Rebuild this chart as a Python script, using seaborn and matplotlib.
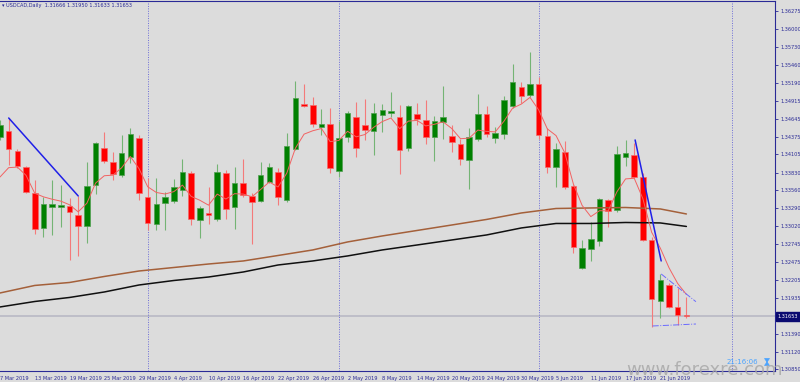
import numpy as np
import pandas as pd
import matplotlib
matplotlib.use("Agg")
import matplotlib.pyplot as plt
from matplotlib.patches import Polygon
import seaborn as sns

# USDCAD daily bars, 7 Mar 2019 .. 26 Jun 2019
opens = [1.34370, 1.34461, 1.34158, 1.33916, 1.33522, 1.32992, 1.33310, 1.33310, 1.33325, 1.33189,
         1.33022, 1.33643, 1.34204, 1.33992, 1.33795, 1.34067, 1.34355, 1.33461, 1.33052, 1.33371,
         1.33401, 1.33568, 1.33825, 1.33113, 1.33219, 1.33128, 1.33825, 1.33310, 1.33674, 1.33477,
         1.33401, 1.33689, 1.33840, 1.33416, 1.34189, 1.34870, 1.34855, 1.34522, 1.34567, 1.33855,
         1.34370, 1.34673, 1.34552, 1.34461, 1.34704, 1.34734, 1.34673, 1.34204, 1.34719, 1.34628,
         1.34370, 1.34598, 1.34386, 1.34264, 1.34022, 1.34340, 1.34719, 1.34355, 1.34416, 1.34840,
         1.35128, 1.35007, 1.35173, 1.34386, 1.33916, 1.34143, 1.33628, 1.32386, 1.32674, 1.32795,
         1.33416, 1.33265, 1.34067, 1.34098, 1.33764, 1.32810, 1.31886, 1.32128, 1.31795, 1.31666]
highs = [1.34628, 1.34658, 1.34189, 1.33931, 1.33719, 1.33461, 1.33719, 1.33643, 1.33446, 1.33477,
         1.33992, 1.34295, 1.34446, 1.34143, 1.34401, 1.34507, 1.34401, 1.33749, 1.33749, 1.33537,
         1.33734, 1.34037, 1.33855, 1.33325, 1.33613, 1.33961, 1.33871, 1.33916, 1.34037, 1.33522,
         1.33992, 1.33977, 1.33901, 1.34431, 1.35219, 1.35173, 1.34976, 1.34795, 1.34810, 1.34613,
         1.34764, 1.34901, 1.34946, 1.34886, 1.34870, 1.35052, 1.34855, 1.34855, 1.34886, 1.34931,
         1.34689, 1.35143, 1.34552, 1.34340, 1.34507, 1.35022, 1.34840, 1.34522, 1.34992, 1.35476,
         1.35204, 1.35658, 1.35279, 1.34507, 1.34280, 1.34310, 1.33643, 1.32810, 1.33083, 1.33446,
         1.33438, 1.34234, 1.34325, 1.34280, 1.33825, 1.32856, 1.32295, 1.32159, 1.32083, 1.31950]
lows = [1.34325, 1.33946, 1.33901, 1.33522, 1.32901, 1.32856, 1.32886, 1.33007, 1.32507, 1.32568,
        1.32765, 1.33507, 1.33977, 1.33719, 1.33764, 1.33977, 1.33416, 1.32961, 1.32961, 1.32961,
        1.33371, 1.33477, 1.33037, 1.32840, 1.33052, 1.33098, 1.33128, 1.32977, 1.33461, 1.32749,
        1.33386, 1.33674, 1.33340, 1.33386, 1.34174, 1.34825, 1.34522, 1.34401, 1.33825, 1.33764,
        1.34295, 1.34067, 1.34325, 1.34098, 1.34446, 1.34673, 1.33810, 1.34158, 1.34552, 1.34264,
        1.34007, 1.34340, 1.34143, 1.33946, 1.33583, 1.34310, 1.34370, 1.34280, 1.34340, 1.34810,
        1.34886, 1.34976, 1.34340, 1.33825, 1.33613, 1.33583, 1.32613, 1.32371, 1.32492, 1.32719,
        1.33007, 1.33234, 1.33931, 1.33749, 1.32795, 1.31492, 1.31629, 1.31780, 1.31522, 1.31633]
closes = [1.34552, 1.34189, 1.33931, 1.33537, 1.32977, 1.33355, 1.33355, 1.33340, 1.33234, 1.33022,
          1.33628, 1.34280, 1.34007, 1.33810, 1.34128, 1.34416, 1.33522, 1.33068, 1.33355, 1.33461,
          1.33613, 1.33840, 1.33128, 1.33295, 1.33189, 1.33840, 1.33280, 1.33674, 1.33492, 1.33386,
          1.33795, 1.33916, 1.33461, 1.34234, 1.34961, 1.34840, 1.34567, 1.34567, 1.33901, 1.34355,
          1.34734, 1.34204, 1.34477, 1.34734, 1.34780, 1.34764, 1.34174, 1.34840, 1.34643, 1.34370,
          1.34613, 1.34673, 1.34295, 1.34037, 1.34370, 1.34719, 1.34416, 1.34431, 1.34931, 1.35204,
          1.34992, 1.35173, 1.34401, 1.33916, 1.34189, 1.33613, 1.32704, 1.32689, 1.32825, 1.33431,
          1.33249, 1.34113, 1.34128, 1.33764, 1.32810, 1.31916, 1.32204, 1.31795, 1.31674, 1.31653]

date_labels = ['7 Mar 2019', '13 Mar 2019', '19 Mar 2019', '25 Mar 2019', '29 Mar 2019',
               '4 Apr 2019', '10 Apr 2019', '16 Apr 2019', '22 Apr 2019', '26 Apr 2019',
               '2 May 2019', '8 May 2019', '14 May 2019', '20 May 2019', '24 May 2019',
               '30 May 2019', '5 Jun 2019', '11 Jun 2019', '17 Jun 2019', '21 Jun 2019']
price_ticks = [1.36275, 1.36000, 1.35730, 1.35460, 1.35190, 1.34915, 1.34645, 1.34375, 1.34105,
               1.33830, 1.33560, 1.33290, 1.33020, 1.32745, 1.32475, 1.32205, 1.31935, 1.31390,
               1.31120, 1.30850]

# slow moving averages read every 4 bars
ma_bars = [0, 4, 8, 12, 16, 20, 24, 28, 32, 36, 40, 44, 48, 52, 56, 60, 64, 68, 72, 76, 79]
ma_brown = [1.32007, 1.32121, 1.32166, 1.32257, 1.32340, 1.32393, 1.32446, 1.32492, 1.32575, 1.32659,
            1.32780, 1.32871, 1.32954, 1.33037, 1.33121, 1.33219, 1.33287, 1.33295, 1.33302, 1.33280,
            1.33204]
ma_black = [1.31795, 1.31878, 1.31939, 1.32022, 1.32128, 1.32196, 1.32249, 1.32325, 1.32431, 1.32492,
            1.32568, 1.32659, 1.32734, 1.32810, 1.32886, 1.32992, 1.33060, 1.33060, 1.33075, 1.33068,
            1.33015]
fast_ma_start = 1.33764

# drawn objects
trend_a_x, trend_a_y = [1, 9], [1.34658, 1.33477]
trend_b_x, trend_b_y = [73.1, 76.1], [1.34325, 1.32492]
chan_top_x, chan_top_y = [76.1, 80.1], [1.32295, 1.31875]
chan_bot_x, chan_bot_y = [75.1, 80.1], [1.31507, 1.31537]
separators = [17, 39, 62, 84.3]
last_price = 1.31653

bg = '#dcdcdc'
navy = '#2a2a96'

sns.set_style('white', {'axes.facecolor': bg, 'figure.facecolor': bg})
plt.rcParams['font.family'] = ['DejaVu Sans', 'Noto Sans CJK SC']

df = pd.DataFrame({'o': opens, 'h': highs, 'l': lows, 'c': closes})
df['bar'] = np.arange(len(df))
fast = [fast_ma_start]
for c in closes[1:]:
    fast.append(fast[-1] + (c - fast[-1]) / 3)
df['fast'] = fast
slow = pd.DataFrame({'bar': ma_bars, 'brown': ma_brown, 'black': ma_black})

fig = plt.figure(figsize=(8, 3.82), dpi=100)
ax = fig.add_axes([0, 11 / 382, 775 / 800, 370.5 / 382])

up = df[df.c >= df.o]
dn = df[df.c < df.o]
ax.vlines(up.bar, up.l, up.h, color='#74b474', lw=0.8, zorder=2)
ax.vlines(dn.bar, dn.l, dn.h, color='#f47a7a', lw=0.8, zorder=2)
ax.bar(up.bar, np.maximum(up.c - up.o, 0.00003), bottom=up.o, width=0.64,
       color='#008000', edgecolor='#4f9f4f', lw=0.5, zorder=3)
ax.bar(dn.bar, np.maximum(dn.o - dn.c, 0.00003), bottom=dn.c, width=0.64,
       color='#ff0000', edgecolor='#f46a6a', lw=0.5, zorder=3)

sns.lineplot(data=slow, x='bar', y='brown', color='#a4603a', lw=1.1, ax=ax, zorder=4)
sns.lineplot(data=slow, x='bar', y='black', color='#101010', lw=1.1, ax=ax, zorder=4)
sns.lineplot(data=df, x='bar', y='fast', color='#f26262', lw=0.7, ax=ax, zorder=5)

ax.plot(trend_a_x, trend_a_y, color='#2020e8', lw=1.1, zorder=6)
ax.plot(trend_b_x, trend_b_y, color='#2020e8', lw=1.1, zorder=6)
ax.plot(chan_top_x, chan_top_y, color='#6a6aff', lw=0.7, ls='-.', zorder=6)
ax.plot(chan_bot_x, chan_bot_y, color='#6a6aff', lw=0.7, ls='-.', zorder=6)

ax.axhline(last_price, color='#b9b9c4', lw=1.2, zorder=1)
for s in separators:
    ax.axvline(s, color='#6c6cd8', lw=0.7, ls=(0, (1, 1.5)), zorder=1)

ax.set_xlim(0.023, 89.2)
ax.set_ylim(1.30825, 1.36438)
ax.set_xlabel('')
ax.set_ylabel('')

ax.yaxis.tick_right()
ax.set_yticks(price_ticks)
ax.set_yticklabels([f'{p:.5f}' for p in price_ticks])
ax.set_xticks(range(0, 80, 4))
ax.set_xticklabels(date_labels, ha='left')
ax.tick_params(axis='both', direction='out', length=2.5, width=0.6, colors=navy,
               labelsize=3.6, pad=1.2)

for side in ['right', 'top', 'bottom']:
    ax.spines[side].set_visible(True)
    ax.spines[side].set_color(navy)
    ax.spines[side].set_linewidth(0.8)
ax.spines['left'].set_visible(False)

ax.text(1.003, last_price, f'{last_price:.5f}', transform=ax.get_yaxis_transform(),
        ha='left', va='center', color='white', fontsize=3.6, zorder=10,
        bbox=dict(boxstyle='square,pad=0.35', fc='#0a0a70', ec='#0a0a70'))

fig.text(2 / 800, 1 - 5 / 382, '\u25be USDCAD,Daily  1.31666 1.31950 1.31633 1.31653',
         fontsize=3.6, color=navy, va='center', ha='left')
fig.text(626 / 800, 1 - 370 / 382, 'www.forexre.com', fontsize=13, color='#a6a6a6',
         alpha=0.8, va='center', ha='left')
fig.text(727 / 800, 1 - 362 / 382, '21:16:06', fontsize=5, color='#4aa3ff',
         va='center', ha='left')

# hourglass icon next to the clock (no installed font has the glyph)
hx, hy = 767 / 800, 1 - 362 / 382
dx, dy = 2.5 / 800, 3.5 / 382
fig.patches.append(Polygon([(hx - dx, hy + dy), (hx + dx, hy + dy), (hx - dx, hy - dy),
                            (hx + dx, hy - dy)], closed=True, fc='#4aa3ff', ec='#4aa3ff',
                           lw=0.5, transform=fig.transFigure, figure=fig))

fig.savefig('out.png', dpi=100, facecolor=bg)
